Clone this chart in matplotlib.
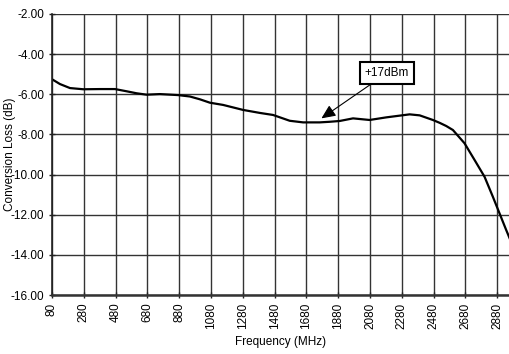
import matplotlib
matplotlib.use("Agg")
import matplotlib.pyplot as plt
import numpy as np

plt.rcParams['font.family'] = ['Liberation Sans', 'DejaVu Sans']

freq_mhz = [80, 130, 193, 277, 382, 476, 549, 612, 675, 758, 873, 947, 1010,
            1073, 1156, 1282, 1388, 1470, 1575, 1659, 1763, 1826, 1889, 1973,
            2077, 2182, 2329, 2392, 2475, 2517, 2559, 2601, 2674, 2737, 2800,
            2852, 2894, 2936, 2960]
loss_db = [-5.25, -5.49, -5.69, -5.75, -5.74, -5.74, -5.85, -5.95, -6.02, -5.99,
           -6.04, -6.11, -6.25, -6.42, -6.53, -6.78, -6.93, -7.03, -7.32, -7.40,
           -7.40, -7.37, -7.33, -7.20, -7.28, -7.15, -7.00, -7.05, -7.28, -7.42,
           -7.58, -7.78, -8.44, -9.27, -10.11, -11.10, -11.93, -12.76, -13.22]

xticks = [80, 280, 480, 680, 880, 1080, 1280, 1480, 1680, 1880, 2080, 2280, 2480, 2680, 2880]
yticks = [-2, -4, -6, -8, -10, -12, -14, -16]
annot_text = "+17dBm"
annot_xy = (1774, -7.20)
annot_text_xy = (2187, -4.94)

fig = plt.figure(figsize=(5.10, 3.54), dpi=100)
ax = fig.add_axes([52/510, 1 - 295/354, (510 - 52)/510, (295 - 14)/354])

ax.plot(freq_mhz, loss_db, color='black', lw=1.6, solid_capstyle='round',
        solid_joinstyle='round')

ax.set_xlim(80, 2960)
ax.set_ylim(-16, -2)
ax.set_xticks(xticks)
ax.set_xticklabels([str(t) for t in xticks], rotation=90, fontsize=8.5)
ax.set_yticks(yticks)
ax.set_yticklabels([f"{t:.2f}" for t in yticks], fontsize=8.5)
ax.tick_params(axis='y', direction='inout', length=5, width=1, color='#222222', pad=3)
ax.tick_params(axis='x', direction='inout', length=5, width=1, color='#222222', pad=3)

ax.grid(True, color='#333333', lw=1.0)
ax.set_axisbelow(True)
for s in ['top', 'right']:
    ax.spines[s].set_visible(False)
ax.spines['left'].set_color('#222222')
ax.spines['left'].set_linewidth(1.2)
ax.spines['bottom'].set_color('#333333')
ax.spines['bottom'].set_linewidth(1.8)

ax.set_xlabel("Frequency (MHz)", fontsize=8.5, labelpad=5)
ax.set_ylabel("Conversion Loss (dB)", fontsize=8.5)
ax.yaxis.set_label_coords(-36/458, 0.5)

ax.annotate(annot_text, xy=annot_xy, xytext=annot_text_xy, fontsize=8.5,
            ha='center', va='center',
            bbox=dict(boxstyle='square,pad=0.4', fc='white', ec='black', lw=1.5),
            arrowprops=dict(arrowstyle='-|>,head_length=1.0,head_width=0.45',
                            color='black', lw=0.8, shrinkA=0, shrinkB=0))

fig.savefig("out.png", dpi=100)
